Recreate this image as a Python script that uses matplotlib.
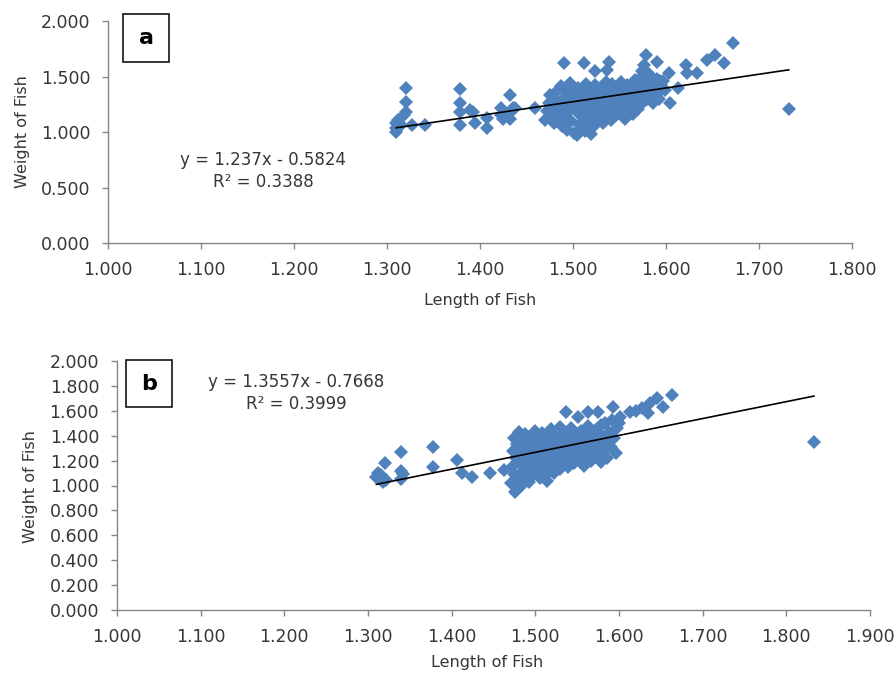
import numpy as np
import matplotlib
matplotlib.use("Agg")
import matplotlib.pyplot as plt
from matplotlib.patches import Rectangle
from matplotlib.ticker import FormatStrFormatter

# panel a : length / weight of fish
len_a = [1.310, 1.310, 1.310, 1.312, 1.315, 1.318, 1.320, 1.320, 1.320, 1.327, 1.341,
         1.378, 1.378, 1.378, 1.378, 1.389, 1.393, 1.395, 1.407, 1.407, 1.423, 1.423, 1.425,
         1.430, 1.432, 1.432, 1.436, 1.438, 1.459,
         1.470, 1.472, 1.474, 1.475, 1.477, 1.478, 1.480, 1.480,
         1.482, 1.483, 1.485, 1.486, 1.487, 1.488, 1.489, 1.490,
         1.491, 1.492, 1.493, 1.494, 1.495, 1.496, 1.497, 1.498, 1.499,
         1.500, 1.501, 1.502, 1.503, 1.504, 1.505, 1.506, 1.507, 1.508, 1.509,
         1.510, 1.511, 1.512, 1.513, 1.514, 1.515, 1.516, 1.517, 1.518, 1.519,
         1.520, 1.521, 1.522, 1.523, 1.524, 1.525, 1.526, 1.527, 1.528, 1.529,
         1.530, 1.531, 1.532, 1.533, 1.534, 1.535, 1.536, 1.537, 1.538, 1.539,
         1.540, 1.541, 1.542, 1.543, 1.544, 1.545, 1.546, 1.547, 1.548, 1.549,
         1.550, 1.551, 1.552, 1.553, 1.554, 1.555, 1.556, 1.557, 1.558, 1.559,
         1.560, 1.561, 1.562, 1.563, 1.564, 1.565, 1.566, 1.567, 1.568, 1.569,
         1.570, 1.571, 1.572, 1.573, 1.574, 1.575, 1.576, 1.577, 1.578, 1.579,
         1.580, 1.582, 1.583, 1.585, 1.586, 1.588, 1.590, 1.591, 1.593, 1.595, 1.597, 1.599,
         1.490, 1.512, 1.524, 1.537, 1.539, 1.574, 1.576, 1.579, 1.590, 1.594,
         1.603, 1.604, 1.613, 1.622, 1.623, 1.633, 1.644, 1.653, 1.662, 1.672, 1.732]
wt_a = [1.000, 1.040, 1.080, 1.110, 1.060, 1.150, 1.183, 1.273, 1.394, 1.063, 1.063,
        1.385, 1.259, 1.183, 1.063, 1.198, 1.183, 1.078, 1.123, 1.039, 1.213, 1.150, 1.114,
        1.150, 1.333, 1.114, 1.213, 1.213, 1.213,
        1.108, 1.19, 1.26, 1.33, 1.15, 1.22, 1.29, 1.08,
        1.36, 1.12, 1.25, 1.18, 1.41, 1.05, 1.30, 1.22,
        1.14, 1.38, 1.27, 1.02, 1.33, 1.19, 1.44, 1.10, 1.25,
        1.35, 0.99, 1.21, 1.29, 0.97, 1.40, 1.16, 1.31, 1.06, 1.24,
        1.37, 1.13, 1.28, 1.01, 1.43, 1.20, 1.33, 1.09, 1.26, 0.98,
        1.38, 1.17, 1.30, 1.05, 1.42, 1.23, 1.35, 1.12, 1.27, 1.19,
        1.40, 1.25, 1.08, 1.33, 1.18, 1.45, 1.29, 1.14, 1.37, 1.22,
        1.31, 1.11, 1.43, 1.26, 1.19, 1.36, 1.15, 1.29, 1.40, 1.23,
        1.33, 1.17, 1.45, 1.27, 1.21, 1.38, 1.12, 1.31, 1.42, 1.25,
        1.35, 1.19, 1.29, 1.41, 1.16, 1.33, 1.24, 1.47, 1.28, 1.37,
        1.21, 1.43, 1.31, 1.50, 1.26, 1.39, 1.34, 1.55, 1.29, 1.45,
        1.37, 1.52, 1.32, 1.44, 1.26, 1.40, 1.48, 1.35, 1.30, 1.42, 1.46, 1.38,
        1.624, 1.624, 1.552, 1.559, 1.633, 1.550, 1.604, 1.694, 1.633, 1.460,
        1.529, 1.259, 1.394, 1.604, 1.530, 1.534, 1.649, 1.694, 1.619, 1.805, 1.204]

# panel b
len_b = [1.310, 1.312, 1.314, 1.316, 1.318, 1.320, 1.322, 1.340, 1.340, 1.340, 1.342,
         1.378, 1.378, 1.406, 1.412, 1.424, 1.446, 1.462,
         1.471, 1.472, 1.473, 1.474, 1.475, 1.476, 1.477, 1.478, 1.479, 1.480,
         1.481, 1.482, 1.483, 1.484, 1.485, 1.486, 1.487, 1.488, 1.489, 1.490,
         1.491, 1.492, 1.493, 1.494, 1.495, 1.496, 1.497, 1.498, 1.499, 1.500,
         1.501, 1.502, 1.503, 1.504, 1.505, 1.506, 1.507, 1.508, 1.509, 1.510,
         1.511, 1.512, 1.513, 1.514, 1.515, 1.516, 1.517, 1.518, 1.519, 1.520,
         1.521, 1.522, 1.523, 1.524, 1.525, 1.526, 1.527, 1.528, 1.529, 1.530,
         1.532, 1.533, 1.535, 1.536, 1.538, 1.539, 1.540,
         1.542, 1.543, 1.545, 1.546, 1.548, 1.550, 1.552, 1.553, 1.555, 1.557, 1.558, 1.560,
         1.561, 1.563, 1.564, 1.566, 1.568, 1.569, 1.571, 1.572, 1.574, 1.576, 1.578, 1.579,
         1.581, 1.583, 1.584, 1.586, 1.588, 1.590, 1.592, 1.594, 1.596, 1.598, 1.600,
         1.537, 1.551, 1.563, 1.575, 1.579, 1.593, 1.601, 1.613, 1.620, 1.627,
         1.635, 1.637, 1.645, 1.653, 1.663, 1.833]
wt_b = [1.071, 1.10, 1.05, 1.084, 1.03, 1.178, 1.045, 1.272, 1.118, 1.05, 1.09,
        1.307, 1.151, 1.205, 1.098, 1.071, 1.098, 1.124,
        1.02, 1.15, 1.28, 1.38, 1.09, 0.95, 1.22, 1.33, 1.04, 1.43,
        1.18, 1.26, 1.00, 1.36, 1.12, 1.31, 1.07, 1.41, 1.20, 1.25,
        1.14, 1.35, 1.03, 1.29, 1.40, 1.17, 1.23, 1.09, 1.32, 1.44,
        1.21, 1.12, 1.37, 1.27, 1.06, 1.33, 1.18, 1.42, 1.24, 1.15,
        1.30, 1.08, 1.39, 1.04, 1.22, 1.35, 1.13, 1.28, 1.45, 1.19,
        1.33, 1.10, 1.26, 1.40, 1.16, 1.30, 1.22, 1.37, 1.13, 1.47,
        1.25, 1.35, 1.19, 1.42, 1.29, 1.15, 1.38,
        1.23, 1.46, 1.32, 1.18, 1.40, 1.27, 1.21, 1.36, 1.44, 1.30, 1.16, 1.39,
        1.25, 1.48, 1.34, 1.20, 1.42, 1.29, 1.37, 1.24, 1.45, 1.31, 1.19, 1.40,
        1.27, 1.50, 1.35, 1.22, 1.43, 1.31, 1.53, 1.38, 1.26, 1.46, 1.50,
        1.593, 1.553, 1.593, 1.593, 1.486, 1.633, 1.553, 1.593, 1.600, 1.620,
        1.580, 1.660, 1.700, 1.633, 1.727, 1.349]

# trendline coefficients (from the chart)
slope_a, icpt_a, r2_a = 1.237, -0.5824, 0.3388
slope_b, icpt_b, r2_b = 1.3557, -0.7668, 0.3999

xticks_a = [1.0, 1.1, 1.2, 1.3, 1.4, 1.5, 1.6, 1.7, 1.8]
yticks_a = [0.0, 0.5, 1.0, 1.5, 2.0]
xticks_b = [1.0, 1.1, 1.2, 1.3, 1.4, 1.5, 1.6, 1.7, 1.8, 1.9]
yticks_b = [0.0, 0.2, 0.4, 0.6, 0.8, 1.0, 1.2, 1.4, 1.6, 1.8, 2.0]

BLUE = '#4F81BD'
GREY = '#868686'
TXT = '#363636'

plt.rcParams['font.family'] = ['DejaVu Sans']

W, H = 896, 673
fig = plt.figure(figsize=(W / 100, H / 100), dpi=100)


def px(x, y):
    # pixel position -> figure fraction
    return x / W, 1 - y / H


def style_axes(ax, xt, yt):
    ax.set_xticks(xt)
    ax.set_yticks(yt)
    ax.set_xlim(xt[0], xt[-1])
    ax.set_ylim(yt[0], yt[-1])
    ax.xaxis.set_major_formatter(FormatStrFormatter('%.3f'))
    ax.yaxis.set_major_formatter(FormatStrFormatter('%.3f'))
    for s in ['top', 'right']:
        ax.spines[s].set_visible(False)
    for s in ['left', 'bottom']:
        ax.spines[s].set_color(GREY)
        ax.spines[s].set_linewidth(1.0)
    ax.tick_params(direction='out', length=4.3, width=1.0, color=GREY,
                   labelsize=12.5, labelcolor=TXT, pad=8.5)


def panel(rect, xs, ys, slope, icpt, xt, yt):
    ax = fig.add_axes(rect)
    ax.patch.set_alpha(0)
    style_axes(ax, xt, yt)
    ax.plot(xs, ys, linestyle='none', marker='D', ms=7, color=BLUE,
            markeredgewidth=0, clip_on=False)
    xl = np.array([min(xs), max(xs)])
    ax.plot(xl, slope * xl + icpt, color='black', lw=1.2)
    return ax


# panel a
ax1 = panel([108 / W, 1 - 243 / H, (852 - 108) / W, (243 - 21) / H],
            len_a, wt_a, slope_a, icpt_a, xticks_a, yticks_a)
# panel b
ax2 = panel([117 / W, 1 - 610 / H, (870 - 117) / W, (610 - 361) / H],
            len_b, wt_b, slope_b, icpt_b, xticks_b, yticks_b)

# equations
fig.text(*px(263, 171), 'y = %.3fx - %.4f\nR² = %.4f' % (slope_a, -icpt_a, r2_a),
         ha='center', va='center', fontsize=12, color=TXT, linespacing=1.3)
fig.text(*px(296, 393), 'y = %.4fx - %.4f\nR² = %.4f' % (slope_b, -icpt_b, r2_b),
         ha='center', va='center', fontsize=12, color=TXT, linespacing=1.3)

# axis labels
fig.text(*px(22, 132), 'Weight of Fish', rotation=90, ha='center', va='center',
         fontsize=11.5, color=TXT)
fig.text(*px(480, 300), 'Length of Fish', ha='center', va='center',
         fontsize=11.5, color=TXT)
fig.text(*px(30, 487), 'Weight of Fish', rotation=90, ha='center', va='center',
         fontsize=11.5, color=TXT)
fig.text(*px(487, 663), 'Length of Fish', ha='center', va='center',
         fontsize=11.5, color=TXT)

# panel letters in boxes
for (x0, y0, x1, y1), lab in [((123, 14, 169, 62), 'a'), ((126, 360, 172, 407), 'b')]:
    fig.add_artist(Rectangle(px(x0, y1), (x1 - x0) / W, (y1 - y0) / H,
                             transform=fig.transFigure, fill=False,
                             edgecolor='black', lw=1.1))
    fig.text(*px((x0 + x1) / 2, (y0 + y1) / 2), lab, ha='center', va='center',
             fontsize=16, fontweight='bold', color='black')

fig.savefig('out.png', dpi=100)
